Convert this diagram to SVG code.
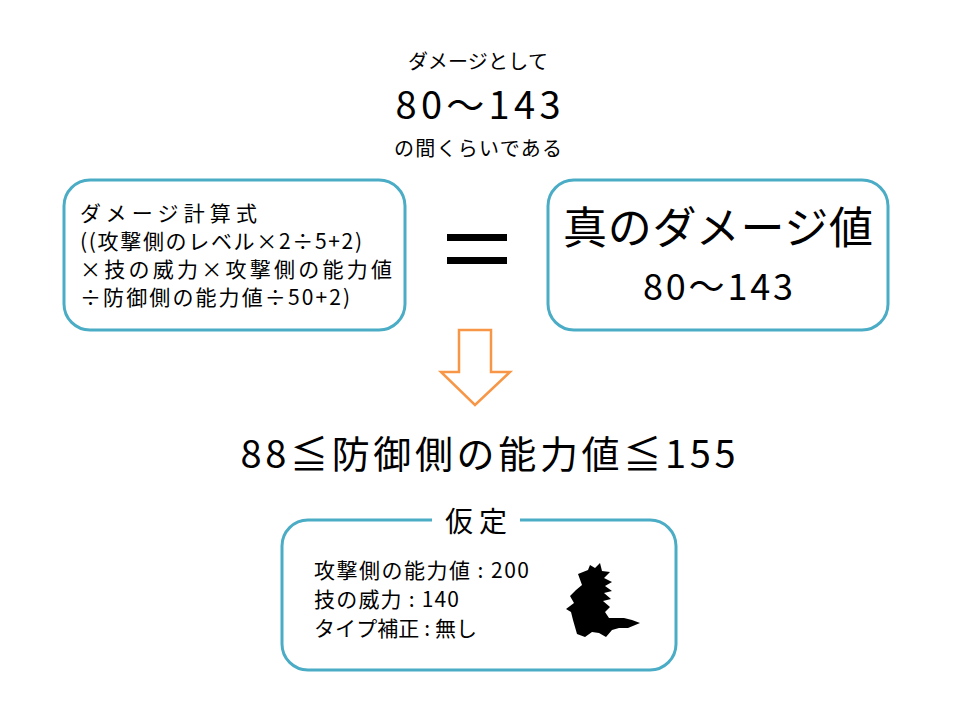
<svg xmlns="http://www.w3.org/2000/svg" width="960" height="720" viewBox="0 0 960 720">
<style>
text{font-family:"Noto Sans CJK JP","Noto Sans",sans-serif;fill:#000}
.box{fill:#fff;stroke:#4bacc6;stroke-width:3}
.c{text-anchor:middle}
</style>
<rect width="960" height="720" fill="#fff"/>
<g id="top">
<text x="478" y="69" class="c" font-size="20" textLength="140">ダメージとして</text>
<text x="478" y="119" class="c" font-size="38" textLength="165">80〜143</text>
<text x="478" y="156" class="c" font-size="20" textLength="168">の間くらいである</text>
</g>
<g id="formula">
<rect class="box" x="64" y="180" width="341" height="150" rx="26"/>
<text font-size="21"><tspan x="80" y="221" textLength="177">ダメージ計算式</tspan><tspan x="80" y="249" textLength="282">((攻撃側のレベル×2÷5+2)</tspan><tspan x="80" y="277" textLength="312">×技の威力×攻撃側の能力値</tspan><tspan x="80" y="305" textLength="270">÷防御側の能力値÷50+2)</tspan></text>
</g>
<g id="equals">
<rect x="447" y="234" width="60" height="7" fill="#000"/>
<rect x="447" y="257" width="60" height="7" fill="#000"/>
</g>
<g id="truedamage">
<rect class="box" x="548" y="180" width="340" height="150" rx="26"/>
<text x="718" y="244" class="c" font-size="44" textLength="310">真のダメージ値</text>
<text x="718" y="300" class="c" font-size="36" textLength="150">80〜143</text>
</g>
<g id="connectors">
<path d="M459,330 H491 V372 H510 L475,405 L441,372 H459 Z" fill="#fff" stroke="#f79646" stroke-width="2.5"/>
</g>
<g id="result">
<text x="488" y="468" class="c" font-size="38" textLength="495">88≦防御側の能力値≦155</text>
</g>
<g id="assumption">
<rect class="box" x="282" y="520" width="394" height="150" rx="26"/>
<rect x="432" y="505" width="88" height="30" fill="#fff"/>
<text x="476" y="532" class="c" font-size="28" textLength="62">仮定</text>
<text font-size="21"><tspan x="314" y="578" textLength="215">攻撃側の能力値 : 200</tspan><tspan x="314" y="607" textLength="145">技の威力 : 140</tspan><tspan x="314" y="636" textLength="163">タイプ補正 : 無し</tspan></text>
<path d="M578,574 L588,570 L590,565 L595,568 L600,563 L602,571 L610,572 L604,578 L612,582 L605,586 L612,591 L604,593 L611,599 L603,601 L610,607 L605,612 L609,618 L624,618 L632,620 L640,623 L628,628 L619,628 L612,630 L606,637 L599,633 L592,632 L585,637 L577,634 L575,627 L573,620 L571,612 L566,609 L574,603 L570,596 L576,590 L582,585 Z" fill="#000"/>
</g>
</svg>
